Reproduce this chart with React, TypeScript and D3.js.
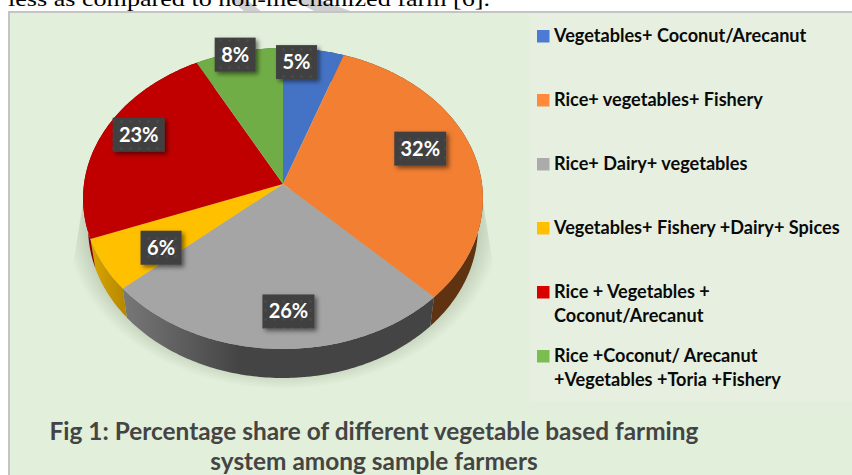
import React from "react";
import * as d3 from "d3";

const categories: string[][] = [
  ["Vegetables+ Coconut/Arecanut"],
  ["Rice+ vegetables+ Fishery"],
  ["Rice+ Dairy+ vegetables"],
  ["Vegetables+ Fishery +Dairy+ Spices"],
  ["Rice + Vegetables +", "Coconut/Arecanut"],
  ["Rice +Coconut/ Arecanut", "+Vegetables +Toria +Fishery"],
];
const shares = [5.4, 32.1, 26.1, 5.6, 23, 7.8];
const topColors = ["#4472c4", "#f27f32", "#a5a5a5", "#ffc000", "#c00000", "#70ad47"];
const sideColors = ["#2a4578", "#5f3211", "url(#graySide)", "url(#yellowSide)", "#8a0000", "#44692b"];
const legendColors = ["#4d7bd3", "#ff8a3c", "#ababab", "#ffc000", "#d90000", "#7abd50"];
const labelNudges = [[-10, -19], [-6, -11], [11, 7], [11, 4], [-8, -11], [-14, -28]];
const titleLines = ["Fig 1: Percentage share of different vegetable based farming", "system among sample farmers"];
const clippedLine = "less as compared to non-mechanized farm [6].";

const apexX = 283, apexY = 184, up = 136, down = 165, radius = 199;
const b = -(down - up) / (down + up);
const h = up * (1 - b);
const depth = 29, bottomScale = 0.975;

// perspective projection of a point on the unit disc onto the tilted pie top
const project = (angle: number, t = 1): [number, number] => {
  const u = t * Math.sin(angle), v = -t * Math.cos(angle);
  const w = 1 + b * v;
  return [(radius * u) / w, (h * v) / w];
};
const abs = (p: [number, number]): [number, number] => [apexX + p[0], apexY + p[1]];
const low = (p: [number, number]): [number, number] => [apexX + p[0] * bottomScale, apexY + p[1] + depth];
const samples = (a0: number, a1: number) => {
  const n = Math.max(2, Math.ceil((a1 - a0) / 0.015));
  return d3.range(n + 1).map((i) => a0 + ((a1 - a0) * i) / n);
};

const pie = d3.pie<number>().sort(null).value((d) => d);
const arcs = pie(shares);
const line = d3.line<[number, number]>();
const fmt = (v: number) => `${Math.round(v)}%`;
const LABEL = "Lato, 'Open Sans', sans-serif";

export default function App() {
  return (
    <svg width={852} height={475} viewBox="0 0 852 475" style={{ position: "absolute", left: 0, top: 0, display: "block" }}>
      <defs>
        <linearGradient id="graySide" gradientUnits="userSpaceOnUse" x1={122} x2={240} y1={0} y2={0}>
          <stop offset="0" stopColor="#787878" />
          <stop offset="1" stopColor="#444444" />
        </linearGradient>
        <linearGradient id="yellowSide" gradientUnits="userSpaceOnUse" x1={90} x2={125} y1={0} y2={0}>
          <stop offset="0" stopColor="#dba600" />
          <stop offset="1" stopColor="#b58800" />
        </linearGradient>
        <radialGradient id="halo" gradientUnits="userSpaceOnUse" cx={0} cy={0} r={1}
          gradientTransform="translate(283 222) scale(218 167)">
          <stop offset="0" stopColor="#a6b59f" />
          <stop offset="0.8" stopColor="#aab9a3" />
          <stop offset="0.91" stopColor="#c6d4be" />
          <stop offset="1" stopColor="#e2efda" />
        </radialGradient>
        <clipPath id="haloClip">
          <polygon points="85,190 69,290 69,389 497,389 497,290 481,190" />
        </clipPath>
        <filter id="boxShadow" x="-30%" y="-30%" width="170%" height="170%">
          <feDropShadow dx="2.5" dy="2.5" stdDeviation="2" floodColor="#000" floodOpacity="0.5" />
        </filter>
        <pattern id="dots" width={9} height={9} patternUnits="userSpaceOnUse">
          <rect width={9} height={9} fill="#404040" />
          <circle cx={4.5} cy={4.5} r={1.4} fill="#4a4a4a" />
        </pattern>
      </defs>

      <rect width={852} height={475} fill="#ffffff" />
      <polygon points="231,0 247,0 262,12 245,12" fill="#cfcfcf" />
      <polygon points="293,0 320,0 353,12 316,12" fill="#cfcfcf" />
      <rect x={8} y={11} width={844} height={464} fill="#c4c4c4" />
      <rect x={10} y={13} width={842} height={462} fill="#e2efda" />
      <rect x={529} y={13} width={323} height={388} fill="#e7f0e0" />
      <text x={8} y={6} fontFamily="'Liberation Serif', serif" fontSize={21} fill="#000" textLength={482} lengthAdjust="spacingAndGlyphs">
        {clippedLine}
      </text>

      <g clipPath="url(#haloClip)">
        <rect x={60} y={180} width={450} height={215} fill="url(#halo)" />
      </g>

      {arcs.map((a, i) => {
        const angles = samples(a.startAngle, a.endAngle);
        const pts = [...angles.map((t) => abs(project(t))), ...angles.slice().reverse().map((t) => low(project(t)))];
        return <path key={`s${i}`} d={line(pts) + "Z"} fill={sideColors[i]} />;
      })}
      {arcs.map((a, i) => {
        const pts: [number, number][] = [[apexX, apexY], ...samples(a.startAngle, a.endAngle).map((t) => abs(project(t)))];
        return <path key={`t${i}`} d={line(pts) + "Z"} fill={topColors[i]} />;
      })}

      {arcs.map((a, i) => {
        const [x, y] = abs(project((a.startAngle + a.endAngle) / 2, 0.75));
        const cx = x + labelNudges[i][0], cy = y + labelNudges[i][1];
        const text = fmt(a.data);
        const w = text.length > 2 ? 52 : 41;
        return (
          <g key={`l${i}`}>
            <rect x={cx - w / 2} y={cy - 17} width={w} height={34} fill="url(#dots)" filter="url(#boxShadow)" />
            <text x={cx} y={cy + 7} textAnchor="middle" fontFamily={LABEL} fontWeight={700} fontSize={20} fill="#ffffff">
              {text}
            </text>
          </g>
        );
      })}

      {categories.map((lines, i) => {
        const rowY = 36 + i * 64;
        return (
          <g key={`k${i}`}>
            <rect x={537} y={rowY - 6} width={12.5} height={12.5} fill={legendColors[i]} />
            {lines.map((t, j) => (
              <text key={j} x={554} y={rowY + 6 + j * 24} fontFamily={LABEL} fontWeight={700} fontSize={18.1} fill="#0a0a0a">
                {t}
              </text>
            ))}
          </g>
        );
      })}

      {titleLines.map((t, i) => (
        <text key={t} x={374} y={440 + i * 30} textAnchor="middle" fontFamily={LABEL} fontWeight={700} fontSize={24.4} fill="#444444">
          {t}
        </text>
      ))}
    </svg>
  );
}
